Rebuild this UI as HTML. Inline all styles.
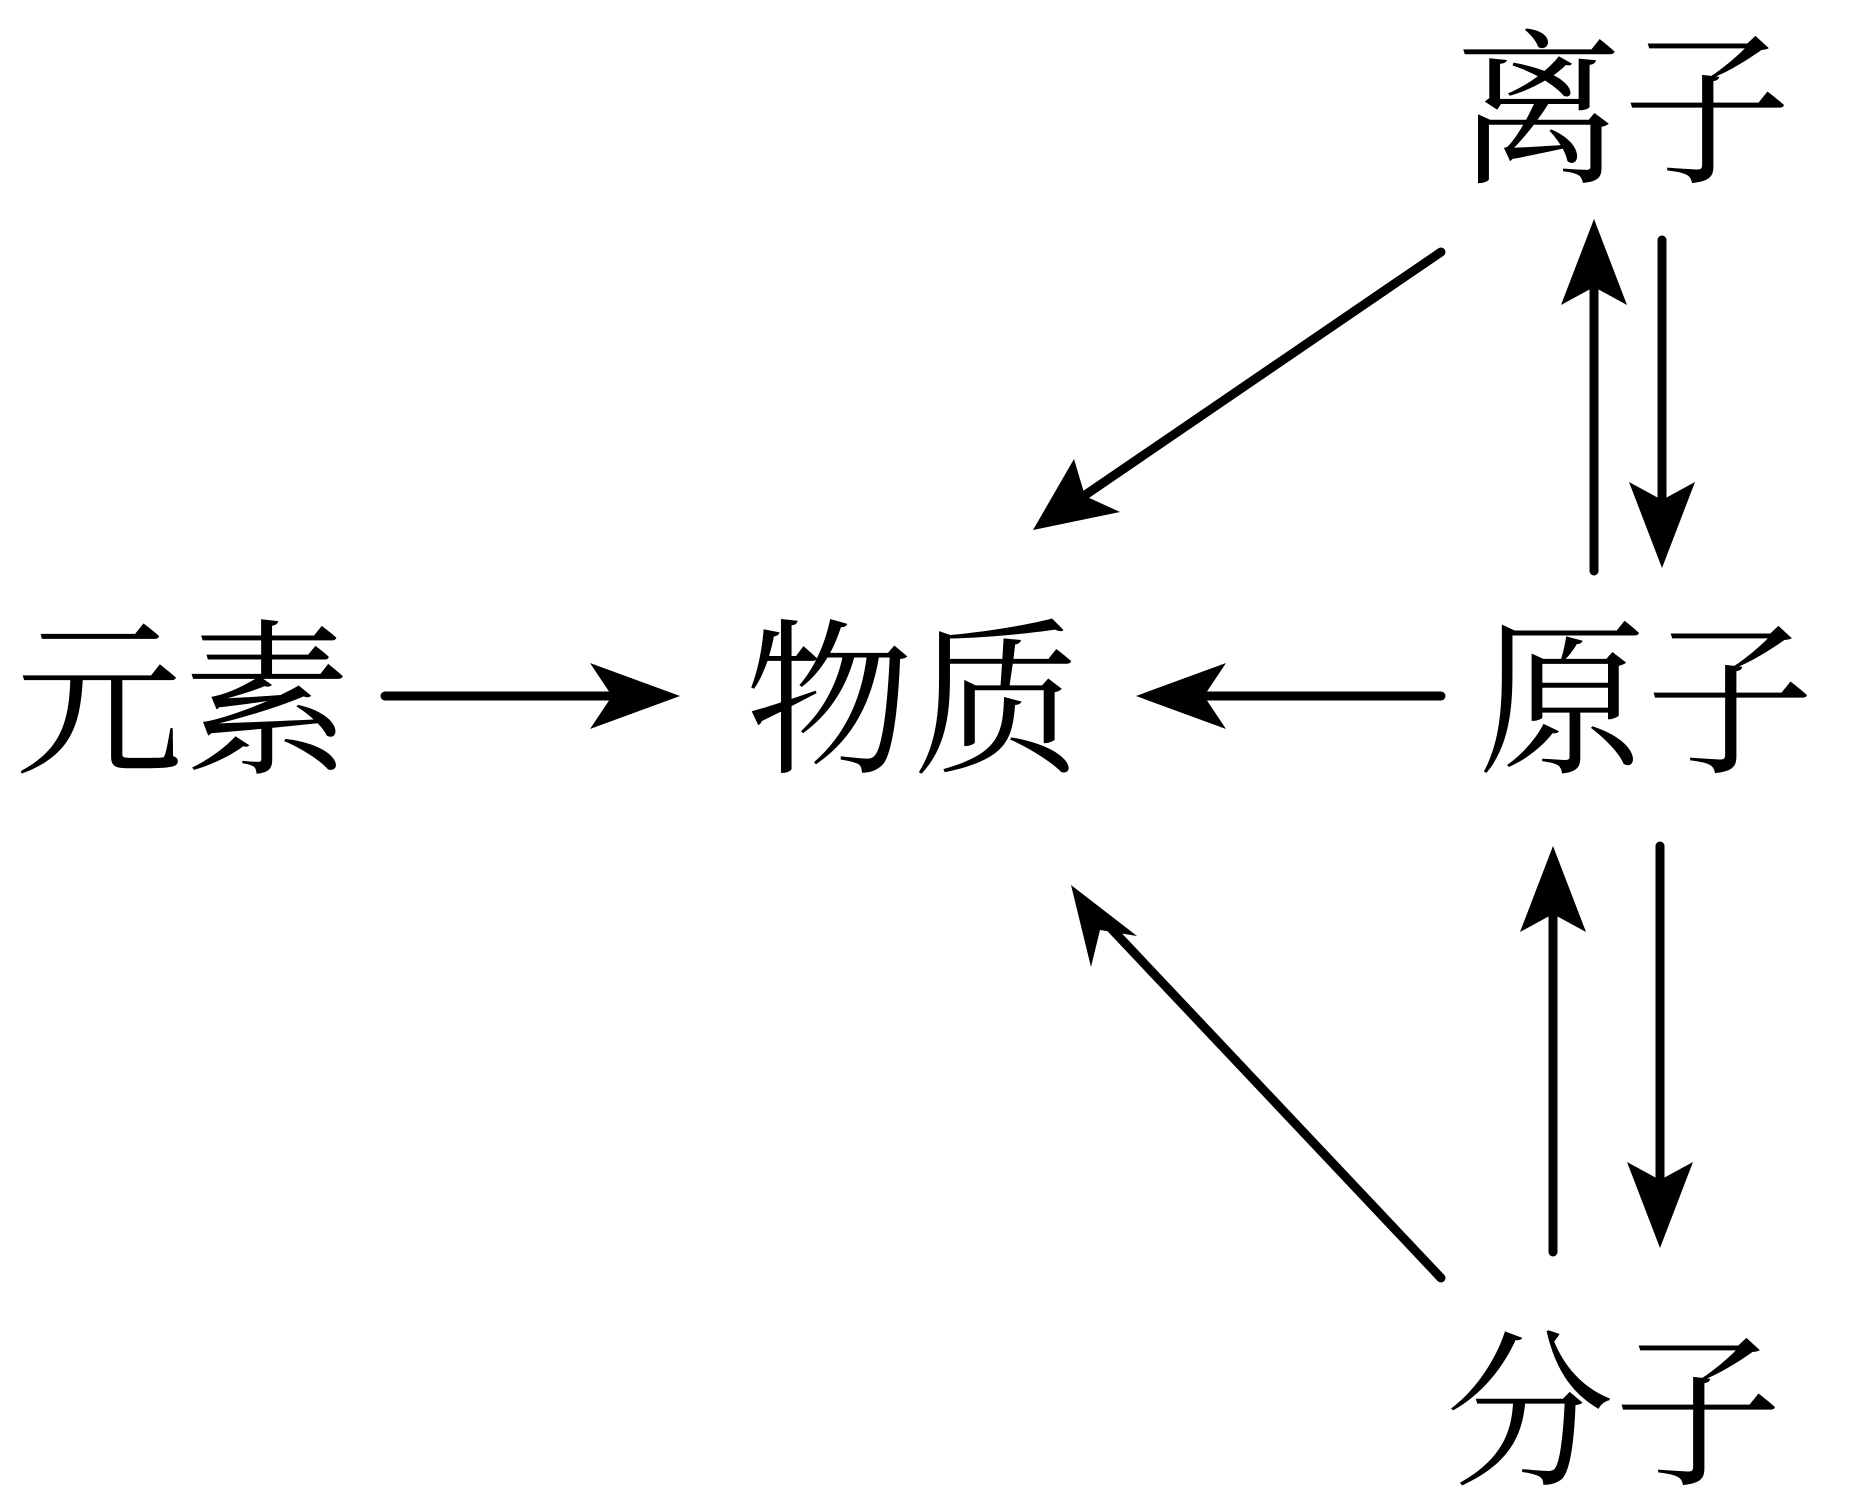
<!DOCTYPE html>
<html><head><meta charset="utf-8"><style>
html,body{margin:0;padding:0;background:#fff;}
svg{display:block;}
text{font-family:"Liberation Serif","Noto Serif CJK SC",serif;font-size:168px;fill:#000;}
</style></head><body>
<svg width="1855" height="1511" viewBox="0 0 1855 1511">
<defs>
<marker id="a" markerWidth="10" markerHeight="10" refX="9" refY="5" orient="auto" markerUnits="userSpaceOnUse" viewBox="0 0 10 10" style="overflow:visible">
</marker>
</defs>
<text x="1455" y="170">离子</text>
<text x="15" y="760">元素</text>
<text x="745" y="760">物质</text>
<text x="1478" y="760">原子</text>
<text x="1446" y="1472">分子</text>
<g stroke="#000" stroke-width="9" stroke-linecap="round" fill="none">
<line x1="385" y1="696" x2="630" y2="696"/>
<line x1="1441" y1="696" x2="1185" y2="696"/>
<line x1="1441" y1="252" x2="1075" y2="502"/>
<line x1="1441" y1="1278" x2="1105" y2="922"/>
<line x1="1594" y1="571" x2="1594" y2="270"/>
<line x1="1662" y1="240" x2="1662" y2="515"/>
<line x1="1553" y1="1252" x2="1553" y2="900"/>
<line x1="1660" y1="846" x2="1660" y2="1195"/>
</g>
<g fill="#000">
<polygon points="680,696 590,663 612,696 590,729"/>
<polygon points="1136,696 1226,663 1204,696 1226,729"/>
<polygon points="1033,530 1074,459 1085,496 1120,512"/>
<polygon points="1071,885 1137,936 1100,930 1091,967"/>
<polygon points="1594,219 1561,305 1594,287 1627,305"/>
<polygon points="1662,568 1629,482 1662,500 1695,482"/>
<polygon points="1553,846 1520,932 1553,914 1586,932"/>
<polygon points="1660,1248 1627,1162 1660,1180 1693,1162"/>
</g>
</svg>
</body></html>
